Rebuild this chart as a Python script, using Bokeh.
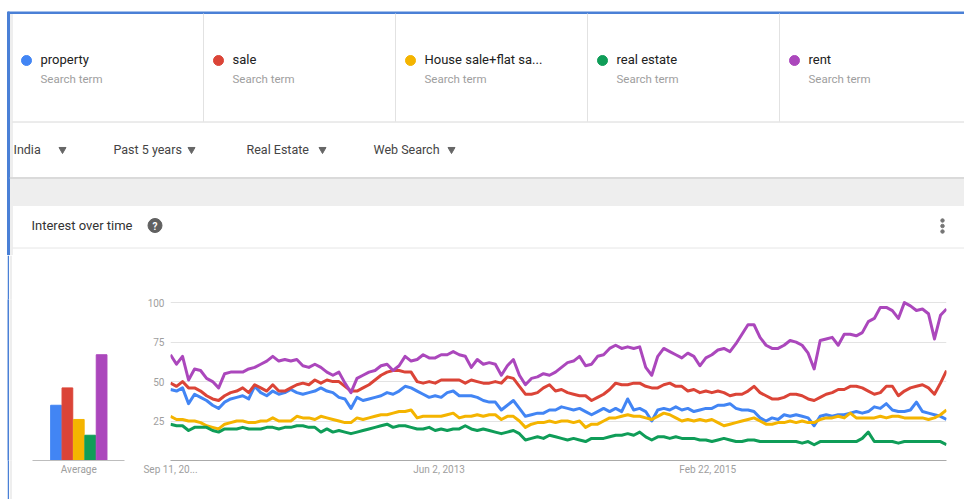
import pandas as pd
from bokeh.plotting import figure
from bokeh.layouts import column, row
from bokeh.models import Range1d, FixedTicker
from bokeh.core.properties import value
from bokeh.embed import file_html
from bokeh.resources import INLINE

# ---------------- data ----------------
terms = ["property", "sale", "House sale+flat sa...", "real estate", "rent"]
term_kind = "Search term"
colors = ["#4285f4", "#db4437", "#f4b400", "#0f9d58", "#ab47bc"]
filters = ["India", "Past 5 years", "Real Estate", "Web Search"]
panel_title = "Interest over time"
avg_label = "Average"
averages = [35, 46, 26, 16, 67]
y_ticks = [25, 50, 75, 100]
x_tick_dates = ["2011-09-11", "2013-06-02", "2015-02-22"]
x_tick_labels = ["Sep 11, 20...", "Jun 2, 2013", "Feb 22, 2015"]
start_date = "2011-09-11"
end_date = "2016-09-04"

property_vals = [45, 44, 46, 36, 42, 40, 38, 35, 33, 37, 39, 40, 41, 39, 47, 43, 41, 44, 42, 43, 45, 43, 42, 43, 44, 46, 44, 43, 40, 39, 33, 40, 38,
                 39, 40, 41, 43, 42, 44, 47, 46, 44, 42, 40, 41, 40, 43, 44, 41, 41, 41, 40, 38, 37, 37, 32, 35, 38, 33, 28, 29, 30, 30, 32, 32,
                 34, 33, 32, 33, 31, 29, 31, 33, 31, 33, 31, 39, 32, 33, 31, 25, 32, 33, 32, 34, 32, 33, 31, 32, 33, 33, 35, 35, 36, 33, 32, 32, 31,
                 27, 25, 27, 26, 29, 28, 29, 28, 27, 22, 28, 29, 28, 29, 29, 30, 31, 30, 31, 34, 33, 36, 32, 31, 31, 32, 37, 31, 30, 29, 28, 26]
sale_vals = [49, 47, 50, 46, 46, 44, 41, 39, 38, 41, 43, 44, 46, 43, 48, 46, 44, 48, 44, 44, 46, 48, 49, 48, 51, 49, 51, 50, 50, 47, 44, 44, 46,
             48, 51, 54, 56, 57, 57, 56, 56, 50, 49, 50, 49, 51, 51, 51, 51, 49, 51, 50, 49, 49, 50, 49, 53, 52, 47, 42, 42, 43, 46, 48, 44,
             45, 43, 42, 41, 41, 38, 40, 42, 45, 49, 48, 48, 49, 49, 47, 46, 46, 48, 49, 47, 47, 44, 45, 43, 44, 43, 44, 43, 41, 42, 42, 44, 47,
             43, 41, 39, 39, 40, 42, 42, 41, 39, 38, 40, 42, 43, 45, 45, 47, 47, 46, 44, 42, 43, 47, 47, 41, 44, 46, 47, 48, 46, 42, 49, 57]
house_vals = [28, 26, 26, 25, 25, 24, 22, 21, 20, 23, 24, 25, 25, 24, 24, 25, 25, 27, 25, 25, 25, 28, 27, 27, 26, 28, 27, 26, 25, 24, 24, 27, 26,
              27, 28, 29, 29, 30, 31, 31, 32, 27, 28, 28, 28, 28, 29, 30, 27, 28, 28, 29, 28, 29, 29, 26, 28, 28, 25, 21, 23, 24, 24, 25, 24,
              25, 25, 24, 25, 21, 23, 23, 25, 27, 27, 28, 29, 28, 28, 27, 26, 28, 30, 29, 27, 25, 26, 25, 26, 25, 26, 24, 22, 23, 24, 25, 26, 27,
              25, 23, 23, 24, 24, 25, 24, 25, 24, 24, 26, 27, 27, 28, 27, 30, 27, 27, 27, 27, 28, 27, 28, 28, 27, 27, 27, 27, 26, 27, 29, 32]
realestate_vals = [23, 22, 22, 19, 21, 21, 21, 19, 18, 20, 20, 20, 21, 20, 20, 20, 21, 21, 20, 21, 21, 22, 22, 21, 21, 18, 20, 18, 19, 18, 17, 18, 19,
                   20, 21, 22, 23, 21, 22, 22, 21, 20, 20, 21, 19, 20, 19, 20, 20, 22, 20, 19, 20, 19, 18, 17, 18, 19, 17, 13, 14, 15, 14, 16, 15,
                   14, 13, 14, 13, 12, 14, 14, 14, 15, 16, 16, 17, 16, 18, 15, 13, 15, 15, 14, 15, 14, 14, 14, 13, 13, 12, 13, 14, 13, 12, 12, 13, 13,
                   12, 12, 12, 12, 12, 12, 12, 11, 12, 10, 12, 12, 12, 12, 12, 12, 12, 14, 18, 12, 12, 12, 12, 11, 12, 12, 12, 12, 12, 12, 12, 10]
rent_vals = [67, 61, 66, 51, 58, 57, 52, 50, 46, 55, 56, 56, 56, 58, 59, 61, 63, 66, 63, 64, 63, 64, 60, 59, 61, 59, 56, 54, 56, 49, 43, 52, 54,
             56, 57, 60, 61, 57, 60, 66, 63, 64, 67, 65, 65, 67, 67, 69, 67, 66, 59, 64, 61, 62, 61, 54, 60, 64, 54, 48, 52, 53, 55, 54, 56,
             59, 62, 63, 66, 60, 61, 66, 67, 71, 73, 71, 72, 71, 72, 59, 54, 66, 71, 69, 67, 65, 68, 66, 60, 65, 67, 70, 71, 69, 74, 80, 86, 86,
             78, 73, 71, 71, 73, 76, 75, 73, 68, 58, 76, 77, 78, 73, 80, 80, 79, 81, 88, 90, 97, 97, 95, 90, 100, 98, 95, 96, 93, 77, 92, 96]
series = [property_vals, sale_vals, house_vals, realestate_vals, rent_vals]

# ---------------- layout constants ----------------
FONT = value("Roboto")
W = 964
H1 = 255
H2 = 244
TOP, BOT = 44, 39
BLUE = "#4a80d6"
STRIP = "#eeeeee"
COMMON = dict(toolbar_location=None, output_backend="svg", outline_line_color=None)

# ---------------- header (decoration in page pixels) ----------------
hdr = figure(width=W, height=H1, x_range=Range1d(0, W), y_range=Range1d(H1, 0), min_border=0,
             x_axis_location=None, y_axis_location=None,
             background_fill_color="white", border_fill_color="white", **COMMON)
hdr.grid.visible = False

hdr.quad(left=[9, 9], right=[12, W], top=[13, 177], bottom=[H1, 205], color=STRIP)
hdr.quad(left=[7, 7], right=[9, W], top=[11.5, 11.5], bottom=[H1, 13], color=BLUE)
div_x = [203, 395, 587, 779]
hdr.segment(x0=div_x, x1=div_x, y0=[13] * 4, y1=[121] * 4, color="#e2e2e2", line_width=1)
hdr.segment(x0=[12, 9, 12], x1=[W, W, W], y0=[121.5, 177.5, 247.5], y1=[121.5, 177.5, 247.5],
            color=["#d8d8d8", "#c6c6c6", "#e6e6e6"], line_width=1)

card_x = [12 + 192 * i for i in range(len(terms))]
hdr.scatter(x=[c + 14 for c in card_x], y=[60] * 5, size=10, color=colors)
hdr.text(x=[c + 28 for c in card_x], y=[59] * 5, text=terms, text_font=FONT, text_font_size="13px",
         text_color="#212121", text_baseline="middle", text_align="left")
hdr.text(x=[c + 28 for c in card_x], y=[78] * 5, text=[term_kind] * 5, text_font=FONT, text_font_size="11.5px",
         text_color="#9e9e9e", text_baseline="middle", text_align="left")

filt_x = [13, 113, 246, 373]
arrow_x = [62, 191, 322, 451]
hdr.text(x=filt_x, y=[149] * 4, text=filters, text_font=FONT, text_font_size="12.5px",
         text_color="#444444", text_baseline="middle", text_align="left")
hdr.scatter(x=arrow_x, y=[149] * 4, marker="inverted_triangle", size=7, color="#666666")

hdr.text(x=[31], y=[225], text=[panel_title], text_font=FONT, text_font_size="13px",
         text_color="#333333", text_baseline="middle", text_align="left")
hdr.scatter(x=[154.5], y=[225], size=14, color="#616161")
hdr.text(x=[154.5], y=[225.5], text=["?"], text_font=FONT, text_font_size="10px", text_font_style="bold",
         text_color="white", text_baseline="middle", text_align="center")
hdr.scatter(x=[942] * 3, y=[220, 225.5, 231], size=3.5, color="#757575")


# ---------------- left strips of the lower row ----------------
def strip(width, color):
    f = figure(width=width, height=H2, min_border_left=0, min_border_right=0,
               min_border_top=TOP, min_border_bottom=BOT, x_axis_location=None, y_axis_location=None,
               background_fill_color=color, border_fill_color=color, **COMMON)
    f.grid.visible = False
    return f


s_white, s_blue, s_grey = strip(7, "white"), strip(2, BLUE), strip(3, STRIP)


def style_axis(ax, line_color, standoff):
    ax.axis_line_color = line_color
    ax.major_tick_line_color = None
    ax.minor_tick_line_color = None
    ax.major_tick_out = 0
    ax.major_tick_in = 0
    ax.minor_tick_out = 0
    ax.minor_tick_in = 0
    ax.major_label_standoff = standoff
    ax.major_label_text_font = "Roboto"
    ax.major_label_text_font_size = "10px"
    ax.major_label_text_color = "#9e9e9e"


# ---------------- average bars ----------------
ux = 11.4
bx0 = -(55.5 - 32) / ux
bar = figure(width=123, height=H2, x_range=Range1d(bx0, bx0 + 92 / ux), y_range=Range1d(0, 102),
             min_border_left=20, min_border_right=11, min_border_top=TOP, min_border_bottom=BOT,
             y_axis_location=None, background_fill_color="white", border_fill_color="white", **COMMON)
bar.grid.visible = False
bar.vbar(x=list(range(len(terms))), top=averages, bottom=0, width=0.94, color=colors)
bar.xaxis.ticker = FixedTicker(ticks=[2])
bar.xaxis.major_label_overrides = {2: avg_label}
style_axis(bar.xaxis[0], "#bdbdbd", 3)

# ---------------- trend chart ----------------
dates = pd.date_range(start_date, end_date, periods=len(property_vals))
tr = figure(width=W - 135, height=H2, x_axis_type="datetime",
            x_range=Range1d(pd.Timestamp(start_date), pd.Timestamp(end_date)), y_range=Range1d(0, 102),
            min_border_left=35, min_border_right=W - 135 - 35 - 776, min_border_top=TOP, min_border_bottom=BOT,
            background_fill_color="white", border_fill_color="white", **COMMON)
tick_ms = [int(pd.Timestamp(d).value // 10**6) for d in x_tick_dates]
tr.xaxis.ticker = FixedTicker(ticks=tick_ms)
tr.xaxis.major_label_overrides = dict(zip(tick_ms, x_tick_labels))
style_axis(tr.xaxis[0], "#aaaaaa", 3)
tr.yaxis.ticker = FixedTicker(ticks=y_ticks)
style_axis(tr.yaxis[0], None, 6)
tr.xgrid.visible = False
tr.ygrid.ticker = FixedTicker(ticks=y_ticks)
tr.ygrid.grid_line_color = "#e3e3e3"

for vals, c in zip(series, colors):
    tr.line(dates, vals, color=c, line_width=3, line_join="round")

page = column(hdr, row(s_white, s_blue, s_grey, bar, tr, spacing=0), spacing=0)
open("out.html", "w").write(file_html(page, INLINE))
